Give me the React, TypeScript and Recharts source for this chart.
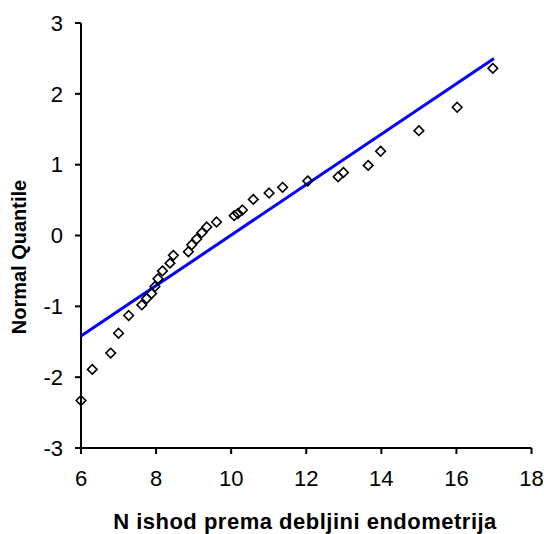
import React from 'react';
import { ScatterChart, Scatter, XAxis, YAxis } from 'recharts';

// observed values (N ishod) and their normal quantiles
const obsX = [
  6.0, 6.3, 6.79, 7.0, 7.27, 7.62, 7.75, 7.88, 7.97, 8.05, 8.17, 8.37, 8.46,
  8.86, 8.95, 9.08, 9.22, 9.35, 9.61, 10.08, 10.18, 10.3, 10.59, 11.01, 11.37,
  12.04, 12.85, 12.99, 13.65, 13.98, 15.0, 16.02, 16.97,
];
const quantY = [
  -2.33, -1.89, -1.66, -1.38, -1.13, -0.98, -0.89, -0.82, -0.72, -0.61, -0.5,
  -0.39, -0.28, -0.23, -0.13, -0.05, 0.04, 0.12, 0.19, 0.28, 0.31, 0.36, 0.51,
  0.6, 0.68, 0.77, 0.83, 0.89, 0.99, 1.19, 1.48, 1.81, 2.36,
];

// reference line endpoints
const fitX = [6, 17];
const fitY = [-1.42, 2.5];

const xTicks = [6, 8, 10, 12, 14, 16, 18];
const yTicks = [-3, -2, -1, 0, 1, 2, 3];

const points = obsX.map((x, i) => ({ x, y: quantY[i] }));
const fitLine = fitX.map((x, i) => ({ x, y: fitY[i] }));

const font = '"Liberation Sans", Arial, sans-serif';

const Diamond = (props: any) => {
  const { cx, cy } = props;
  const r = 4.8;
  return (
    <polygon
      points={`${cx},${cy - r} ${cx + r},${cy} ${cx},${cy + r} ${cx - r},${cy}`}
      fill="none"
      stroke="#000"
      strokeWidth={1.6}
    />
  );
};

export default function App() {
  return (
    <div style={{ position: 'fixed', left: 0, top: 0, background: '#fff' }}>
      <ScatterChart
        width={544}
        height={534}
        margin={{ top: 23, right: 12.5, left: 0, bottom: 0 }}
      >
        <XAxis
          type="number"
          dataKey="x"
          domain={[6, 18]}
          ticks={xTicks}
          interval={0}
          height={86}
          axisLine={{ stroke: '#000', strokeWidth: 2 }}
          tickLine={{ stroke: '#000', strokeWidth: 2 }}
          tickSize={6}
          tickMargin={16}
          tick={{ fill: '#000', fontSize: 22, fontFamily: font }}
          label={{
            content: () => (
              <text
                x={305}
                y={529}
                textAnchor="middle"
                fontFamily={font}
                fontWeight="bold"
                fontSize={22}
                letterSpacing={0.5}
                fill="#000"
              >
                N ishod prema debljini endometrija
              </text>
            ),
          }}
        />
        <YAxis
          type="number"
          dataKey="y"
          domain={[-3, 3]}
          ticks={yTicks}
          interval={0}
          width={81}
          axisLine={{ stroke: '#000', strokeWidth: 2 }}
          tickLine={{ stroke: '#000', strokeWidth: 2 }}
          tickSize={6}
          tickMargin={12}
          tick={{ fill: '#000', fontSize: 22, fontFamily: font }}
          label={{
            content: () => (
              <text
                x={26}
                y={257}
                transform="rotate(-90 26 257)"
                textAnchor="middle"
                fontFamily={font}
                fontWeight="bold"
                fontSize={20}
                fill="#000"
              >
                Normal Quantile
              </text>
            ),
          }}
        />
        <Scatter
          data={fitLine}
          line={{ stroke: '#0000ff', strokeWidth: 3 }}
          shape={() => <g />}
          isAnimationActive={false}
        />
        <Scatter data={points} shape={<Diamond />} isAnimationActive={false} />
      </ScatterChart>
    </div>
  );
}
